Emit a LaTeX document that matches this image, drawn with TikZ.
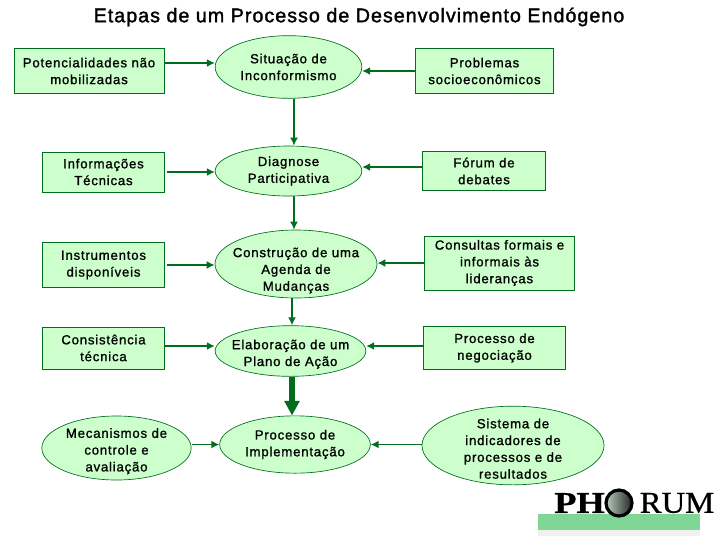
\documentclass[tikz,border=0pt]{standalone}
\usepackage{fontspec}
\setmainfont{Liberation Sans}
\newfontfamily\stepfont{Liberation Sans}[LetterSpace=6,RawFeature={embolden=1.1}]
\newfontfamily\titlefont{Liberation Sans}[LetterSpace=5,RawFeature={embolden=1.6}]
\newfontfamily\logofont{Liberation Serif}[RawFeature={embolden=0.8}]
\usepackage{tikz}
\usetikzlibrary{shapes.geometric, arrows.meta, positioning}
\definecolor{boxfill}{RGB}{204,255,204}
\definecolor{boxline}{RGB}{0,110,30}
\definecolor{barfill}{RGB}{128,214,148}
\newcommand{\lowered}[1]{\rule{0pt}{#1}}
\tikzset{
  stepbox/.style={draw=boxline, fill=boxfill, line width=0.6pt, align=center, inner sep=0pt, font=\fontsize{9.9pt}{12.6pt}\stepfont},
  stepoval/.style={ellipse, draw=boxline, fill=boxfill, line width=0.5pt, align=center, inner sep=-12pt, font=\fontsize{9.9pt}{12.6pt}\stepfont},
  link/.style={draw=boxline, line width=1.3pt, -{Latex[length=6pt,width=6pt]}},
  biglink/.style={draw=boxline, line width=4.5pt, -{Triangle[length=11pt,width=11pt]}}
}
\begin{document}
\begin{tikzpicture}[x=0.75pt, y=-0.75pt]
  \useasboundingbox (0,0) rectangle (720,540);
  \fill[white] (0,0) rectangle (720,540);
  \node[font=\fontsize{14.8pt}{16pt}\titlefont] (title) at (359,17) {Etapas de um Processo de Desenvolvimento Endógeno};

  % left column
  \node[stepbox, minimum width=112.5pt, minimum height=34pt] (pot) at (89,71) {Potencialidades não\\mobilizadas};
  \node[stepbox, minimum width=92pt, minimum height=30pt] (inf) at (103.5,172) {Informações\\Técnicas};
  \node[stepbox, minimum width=92pt, minimum height=33.5pt] (ins) at (103.5,265) {Instrumentos\\disponíveis};
  \node[stepbox, minimum width=92pt, minimum height=31.5pt] (con) at (103.5,348) {Consistência\\técnica};
  \node[stepoval, minimum width=112pt, minimum height=48pt] (mec) at (116.5,448) {\lowered{12pt}Mecanismos de\\controle e\\avaliação};

  % middle column
  \node[stepoval, minimum width=110pt, minimum height=47pt] (sit) at (288.5,67) {Situação de\\Inconformismo};
  \node[stepoval, minimum width=110pt, minimum height=37.5pt] (dia) at (288.5,171) {Diagnose\\Participativa};
  \node[stepoval, minimum width=121.5pt, minimum height=51pt] (agd) at (296,264) {\lowered{17pt}Construção de uma\\Agenda de\\Mudanças};
  \node[stepoval, minimum width=113pt, minimum height=38pt] (pla) at (290.5,351) {\lowered{12pt}Elaboração de um\\Plano de Ação};
  \node[stepoval, minimum width=113pt, minimum height=43pt] (imp) at (295,444.5) {Processo de\\Implementação};

  % right column
  \node[stepbox, minimum width=103pt, minimum height=34pt] (pro) at (484.5,71) {Problemas\\socioeconômicos};
  \node[stepbox, minimum width=92pt, minimum height=29pt] (for) at (484,171) {Fórum de\\debates};
  \node[stepbox, minimum width=113pt, minimum height=40.5pt] (cons) at (499.5,263) {Consultas formais e\\informais às\\lideranças};
  \node[stepbox, minimum width=106pt, minimum height=32pt] (neg) at (494.5,348) {Processo de\\negociação};
  \node[stepoval, minimum width=136.5pt, minimum height=59pt] (sis) at (513,445.5) {\lowered{12pt}Sistema de\\indicadores de\\processos e de\\resultados};

  % arrows
  \coordinate (upper) at (294,0);
  \coordinate (lower) at (292,0);
  \draw[link] ([yshift=6pt]pot.east) -- ([yshift=6pt]pot.east -| sit.west);
  \draw[link, shorten <=1.5pt] (inf.east) -- (inf.east -| dia.west);
  \draw[link, shorten <=1.5pt] (ins.east) -- (ins.east -| agd.west);
  \draw[link] ([yshift=1.5pt]con.east) -- ([yshift=1.5pt]con.east -| pla.west);
  \draw[link] (imp.west -| mec.east) -- (imp.west);
  \draw[link] (pro.west) -- (pro.west -| sit.east);
  \draw[link] ([yshift=3pt]for.west) -- ([yshift=3pt]for.west -| dia.east);
  \draw[link] (cons.west) -- (cons.west -| agd.east);
  \draw[link] ([yshift=1.5pt]neg.west) -- ([yshift=1.5pt]neg.west -| pla.east);
  \draw[link] (imp.east -| sis.west) -- (imp.east);
  \draw[link] (sit.south -| upper) -- (dia.north -| upper);
  \draw[link] (dia.south -| upper) -- (agd.north -| upper);
  \draw[link] (agd.south -| lower) -- (pla.north -| lower);
  \draw[biglink] (pla.south -| lower) -- (imp.north -| lower);

  % logo
  \fill[barfill] (538,514) rectangle (700,530);
  \fill[black!6] (538,530) rectangle (700,536);
  \node[font=\fontsize{22.7pt}{23pt}\logofont\bfseries, inner sep=0pt] (ph) at (579.5,503) {\scalebox{1.2}[1]{PH}};
  \node[font=\fontsize{22.7pt}{23pt}\logofont, inner sep=0pt] (rum) at (677,503) {\scalebox{1.08}[1]{RUM}};
  \draw[line width=2.4pt, left color=barfill!60!black!40, right color=black!85] (619,503) ellipse (13 and 13);
\end{tikzpicture}
\end{document}
